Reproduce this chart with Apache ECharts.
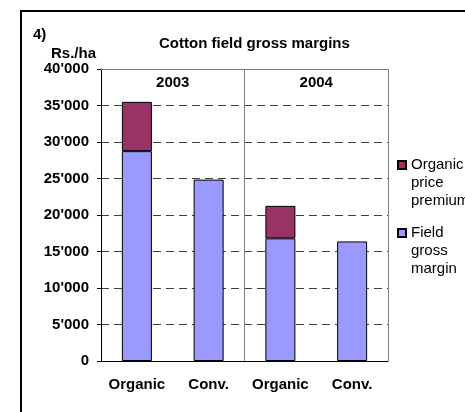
<!DOCTYPE html>
<html>
<head>
<meta charset="utf-8">
<script src="https://cdn.jsdelivr.net/npm/echarts@6/dist/echarts.min.js"></script>
<style>
  html, body { margin: 0; padding: 0; background: #fff; }
</style>
</head>
<body>
<div id="main" style="width:465px;height:412px;"></div>
<script type="text/javascript">
// data
var categories = ['Organic', 'Conv.', 'Organic', 'Conv.'];
var years = ['2003', '2004'];
var fieldMargin = [28750, 24850, 16800, 16380];
var pricePremium = [6750, '-', 4450, '-'];
var yTicks = { min: 0, max: 40000, interval: 5000 };

var FONT = '"Liberation Sans", Arial, sans-serif';

function fmtThousands(v) {
    return String(v).replace(/\B(?=(\d{3})+(?!\d))/g, "'");
}

// legend marker sits next to the first line of a 3-line label
var LH = 18;
var legendIcon = 'path://M0,5L8,5L8,13L0,13Z M0,0 M0,' + (LH * 3);

function legendOf(name, top) {
    return {
        data: [name],
        orient: 'vertical', left: 397, top: top, padding: 0,
        itemWidth: 8, itemHeight: LH * 3, icon: legendIcon,
        formatter: function (n) { return n.split(' ').join('\n'); },
        textStyle: { fontSize: 15, lineHeight: LH, color: '#000', fontFamily: FONT }
    };
}

var myChart = echarts.init(document.getElementById('main'));

var option = {
    backgroundColor: '#fff',
    animation: false,
    textStyle: { fontFamily: FONT },
    title: [
        { text: '4)', left: 28, top: 22, textStyle: { fontSize: 15, fontWeight: 'bold', color: '#000', fontFamily: FONT } },
        { text: 'Rs./ha', left: 46, top: 41, textStyle: { fontSize: 15, fontWeight: 'bold', color: '#000', fontFamily: FONT } },
        { text: 'Cotton field gross margins', left: 154, top: 31, textStyle: { fontSize: 15, fontWeight: 'bold', color: '#000', fontFamily: FONT } }
    ],
    legend: [
        legendOf('Organic price premium', 155),
        legendOf('Field gross margin', 223)
    ],
    grid: { left: 101, right: 77, top: 69, bottom: 51, containLabel: false },
    xAxis: [
        {
            type: 'category',
            data: categories,
            position: 'bottom',
            axisLine: { lineStyle: { color: '#000', width: 1 } },
            axisTick: { show: false },
            axisLabel: { interval: 0, hideOverlap: false, color: '#000', fontSize: 15, fontWeight: 'bold', margin: 16, fontFamily: FONT },
            splitLine: { show: false }
        },
        {
            type: 'category',
            data: years,
            position: 'top',
            axisLine: { show: true, lineStyle: { color: '#808080', width: 1 } },
            axisTick: { show: false },
            axisLabel: { interval: 0, inside: true, color: '#000', fontSize: 15, fontWeight: 'bold', margin: 6, fontFamily: FONT },
            splitLine: { show: true, interval: 0, lineStyle: { color: '#808080', width: 1 } }
        }
    ],
    yAxis: {
        type: 'value',
        min: yTicks.min, max: yTicks.max, interval: yTicks.interval,
        axisLine: { show: true, lineStyle: { color: '#000', width: 1 } },
        axisTick: { show: true, length: 4, lineStyle: { color: '#000' } },
        axisLabel: { color: '#000', fontSize: 15, fontWeight: 'bold', margin: 12, fontFamily: FONT, formatter: fmtThousands },
        splitLine: { show: true, lineStyle: { color: '#404040', width: 1, type: [8, 5] } }
    },
    series: [
        {
            name: 'Field gross margin',
            type: 'bar', stack: 'gm', barWidth: 30,
            data: fieldMargin,
            itemStyle: { color: '#9999FF', borderColor: '#000', borderWidth: 1 }
        },
        {
            name: 'Organic price premium',
            type: 'bar', stack: 'gm', barWidth: 30,
            data: pricePremium,
            itemStyle: { color: '#993366', borderColor: '#000', borderWidth: 1 }
        }
    ],
    graphic: [
        {
            type: 'rect', silent: true, z: 100,
            shape: { x: 21, y: 11, width: 600, height: 600 },
            style: { fill: 'none', stroke: '#000', lineWidth: 2 }
        }
    ]
};

myChart.setOption(option);
</script>
</body>
</html>
